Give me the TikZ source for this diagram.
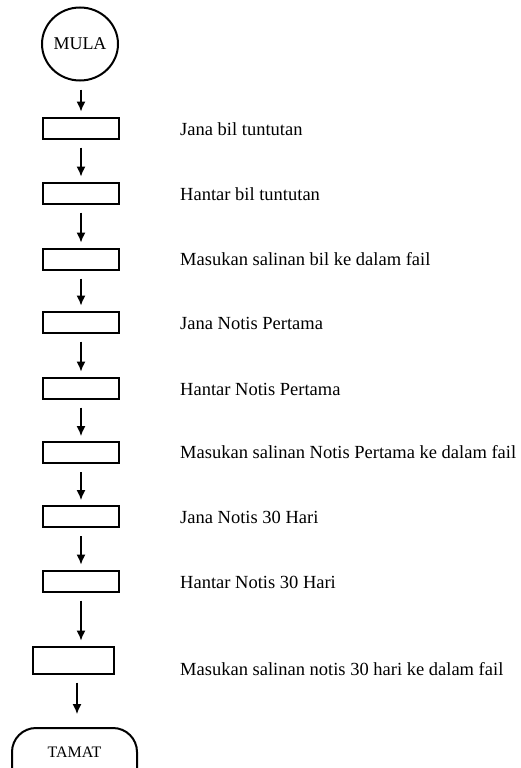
\documentclass[tikz,border=0pt]{standalone}
\usepackage{fontspec}
\setmainfont{Liberation Serif}
\usetikzlibrary{arrows.meta,shapes.geometric}
\begin{document}
\begin{tikzpicture}[x=1pt,y=-1pt,
 stepbox/.style={draw,line width=2pt,minimum width=76pt,minimum height=21pt,inner sep=0pt},
 lab/.style={anchor=base west,font=\fontsize{18.5}{22}\selectfont,inner sep=0pt},
 flow/.style={-{Latex[length=10pt,width=9pt]},line width=1.3pt,shorten <=8pt,shorten >=5pt}]
\useasboundingbox (0,0) rectangle (521,768);
\node[draw,ellipse,line width=2pt,minimum width=76pt,minimum height=73pt,inner sep=0pt,font=\fontsize{18}{21}\selectfont] (c0) at (80,44) {MULA};
\node[stepbox] (b1) at (81,128) {};
\node[stepbox] (b2) at (81,193) {};
\node[stepbox] (b3) at (81,259) {};
\node[stepbox] (b4) at (81,322) {};
\node[stepbox] (b5) at (81,388) {};
\node[stepbox] (b6) at (81,452.5) {};
\node[stepbox] (b7) at (81,516.5) {};
\node[stepbox] (b8) at (81,581) {};
\node[stepbox,minimum width=81pt,minimum height=27pt] (b9) at (73.5,660) {};
\node[draw,line width=2pt,rounded corners=24pt,minimum width=125pt,minimum height=66pt,inner sep=0pt] (t) at (74.5,761) {};
\node[font=\fontsize{16}{19}\selectfont,inner sep=0pt] (tt) at (74.5,752) {TAMAT};
\node[lab] (l1) at (180,135) {Jana bil tuntutan};
\node[lab] (l2) at (180,200) {Hantar bil tuntutan};
\node[lab] (l3) at (180,265) {Masukan salinan bil ke dalam fail};
\node[lab] (l4) at (180,329) {Jana Notis Pertama};
\node[lab] (l5) at (180,395) {Hantar Notis Pertama};
\node[lab] (l6) at (180,458) {Masukan salinan Notis Pertama ke dalam fail};
\node[lab] (l7) at (180,523) {Jana Notis 30 Hari};
\node[lab] (l8) at (180,588) {Hantar Notis 30 Hari};
\node[lab] (l9) at (180,675) {Masukan salinan notis 30 hari ke dalam fail};
\draw[flow] (c0.south -| b1.north) -- (b1.north);
\draw[flow] (b1) -- (b2);
\draw[flow] (b2) -- (b3);
\draw[flow] (b3) -- (b4);
\draw[flow] (b4) -- (b5);
\draw[flow] (b5) -- (b6);
\draw[flow] (b6) -- (b7);
\draw[flow] (b7) -- (b8);
\draw[flow] (b8.south) -- (b8.south |- b9.north);
\draw[flow,shorten >=13pt] (b9.south -| 77,0) -- (t.north -| 77,0);
\end{tikzpicture}
\end{document}
